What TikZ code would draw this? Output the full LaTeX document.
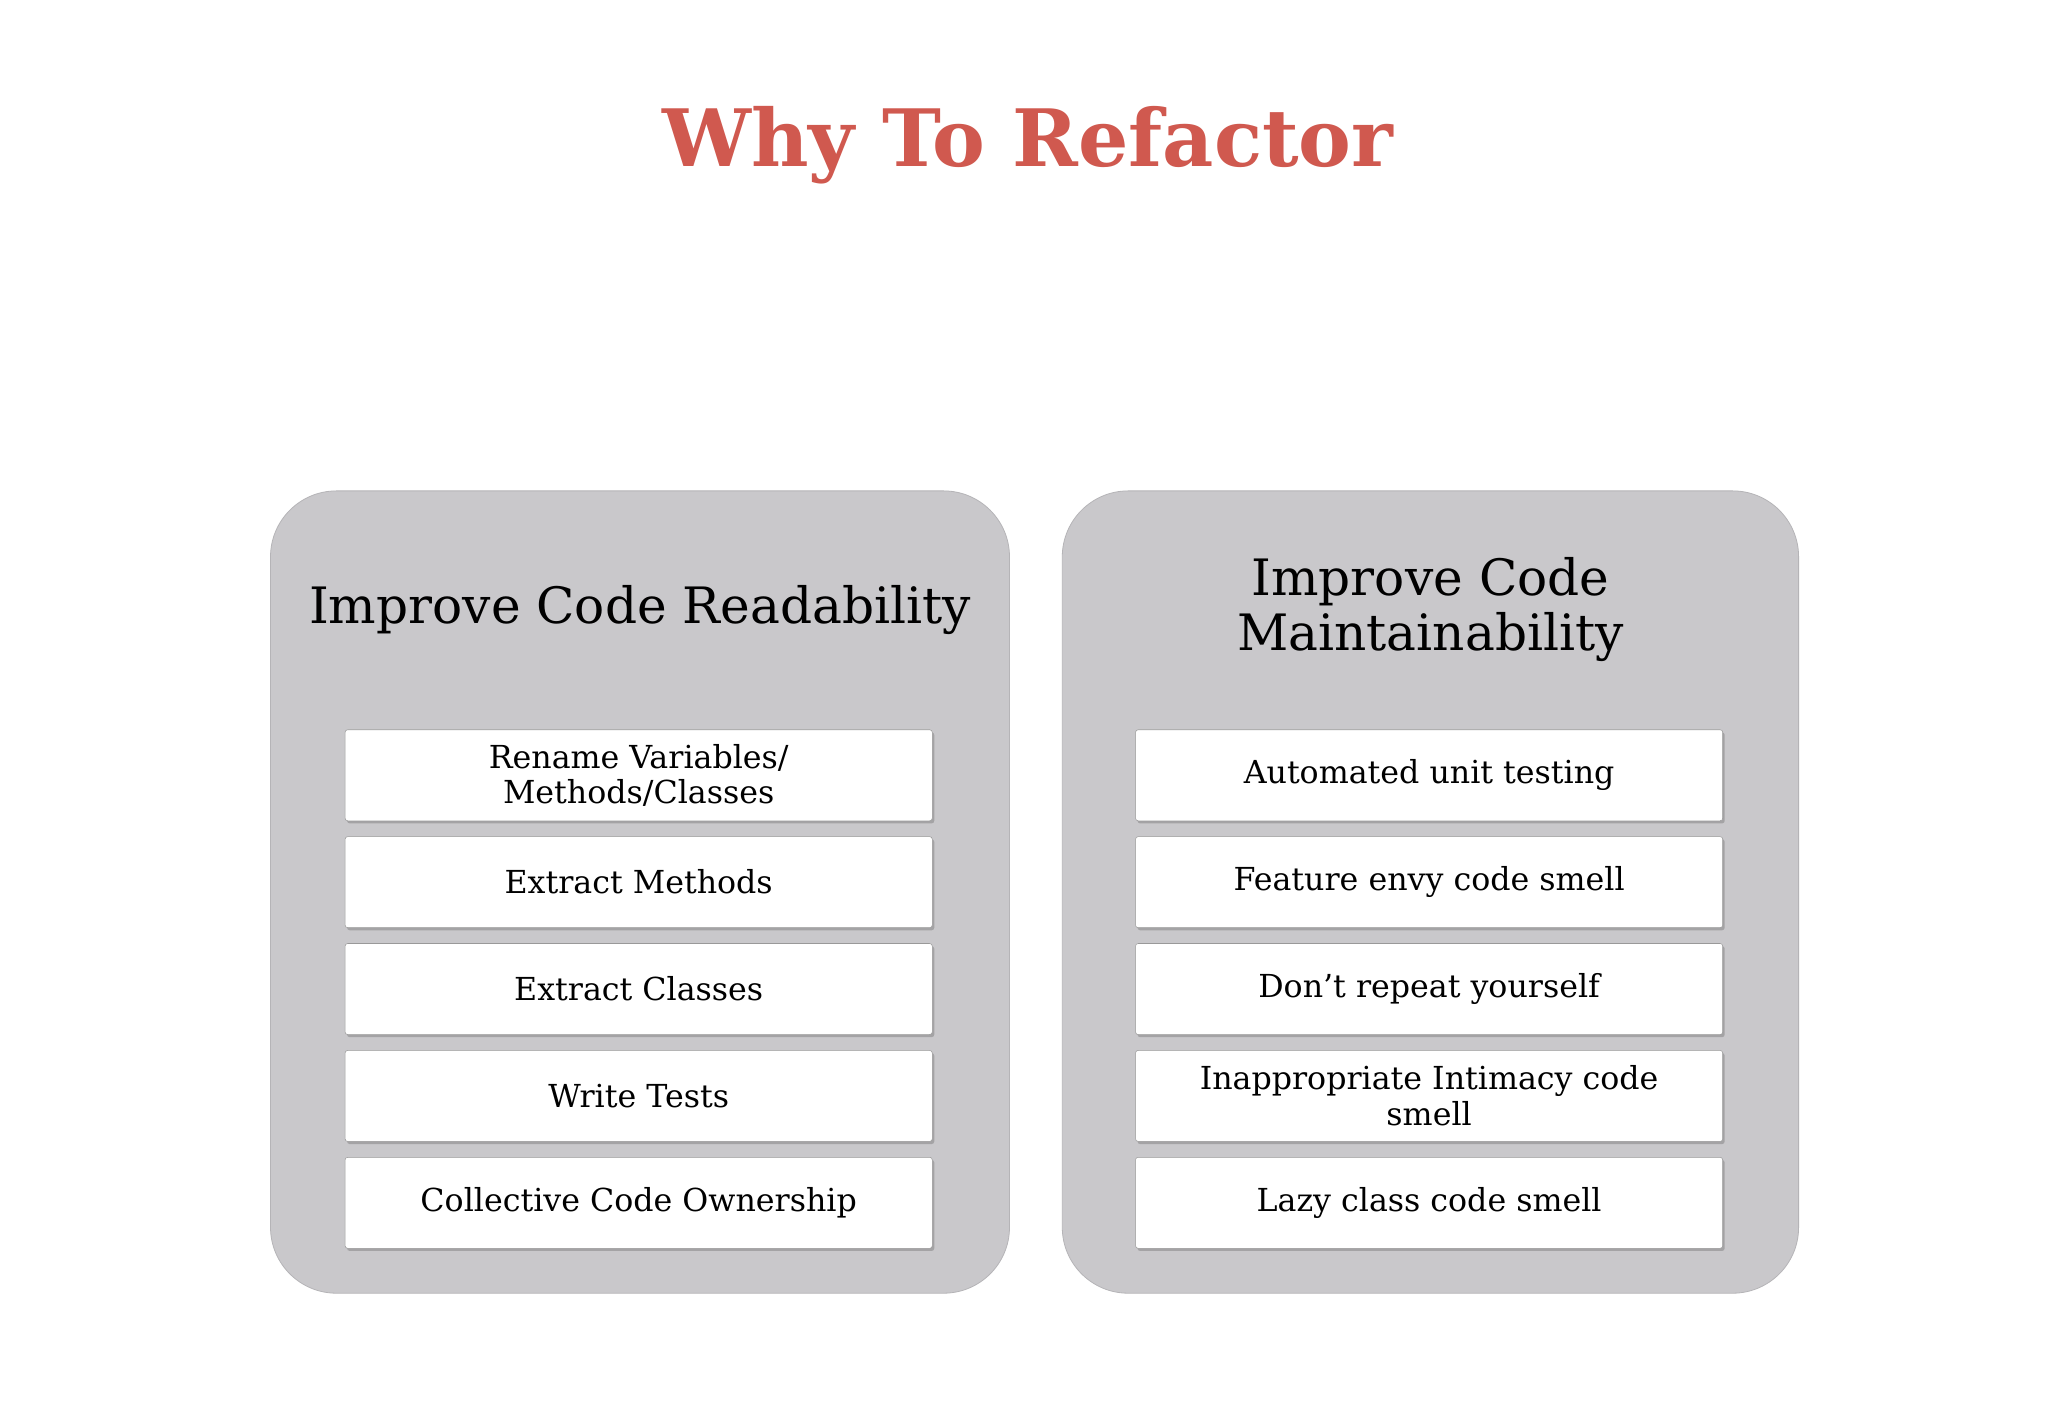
\documentclass[tikz,border=0pt]{standalone}
\usepackage{fontspec}
\setmainfont{DejaVu Serif}
\usetikzlibrary{shadows}
\definecolor{ttl}{HTML}{D0594F}
\definecolor{pan}{HTML}{C9C8CB}
\begin{document}
\begin{tikzpicture}[x=1pt,y=-1pt,
panel/.style={fill=pan,rounded corners=50pt,draw=pan!90!black,line width=0.6pt},
item/.style={draw=gray!80,fill=white,minimum width=445pt,minimum height=69pt,rounded corners=2pt,
 align=center,font=\fontsize{24}{27}\selectfont,drop shadow={shadow xshift=1.5pt,shadow yshift=-2pt,opacity=0.5}},
head/.style={align=center,font=\fontsize{38}{42}\selectfont}]
\useasboundingbox (0,0) rectangle (1552,1075);
\fill[white] (0,0) rectangle (1552,1075);
\node[font=\fontsize{60}{66}\selectfont\bfseries,text=ttl] (title) at (779,110) {Why To Refactor};
\draw[panel] (205,372) rectangle (765,980);
\draw[panel] (805,372) rectangle (1363,980);
\node[head] (h1) at (485,462) {Improve Code Readability};
\node[head] (h2) at (1084,462) {Improve Code\\Maintainability};
\foreach \n/\t [count=\i from 0] in {a1/{Rename Variables/\\Methods/Classes},a2/Extract Methods,a3/Extract Classes,a4/Write Tests,a5/Collective Code Ownership}
  \node[item] (\n) at (484,{587.5+81*\i}) {\t};
\foreach \n/\t [count=\i from 0] in {b1/Automated unit testing,b2/Feature envy code smell,b3/Don’t repeat yourself,b4/{Inappropriate Intimacy code\\smell},b5/Lazy class code smell}
  \node[item] (\n) at (1083,{587.5+81*\i}) {\t};
\end{tikzpicture}
\end{document}
